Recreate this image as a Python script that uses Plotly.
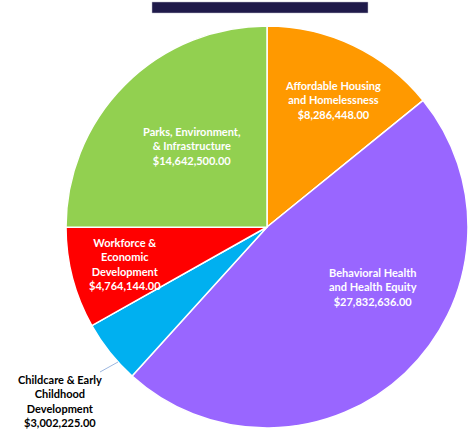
import plotly.graph_objects as go

categories = ["Affordable Housing<br>and Homelessness",
              "Behavioral Health<br>and Health Equity",
              "Childcare & Early<br>Childhood<br>Development",
              "Workforce &<br>Economic<br>Development",
              "Parks, Environment,<br>& Infrastructure"]
values = [8286448.00, 27832636.00, 3002225.00, 4764144.00, 14642500.00]
colors = ["#FF9900", "#9966FF", "#00B0F0", "#FF0000", "#92D050"]

W, H = 468, 431
# label centres in pixels (x, y) and text colours
label_pos = [(333, 100), (373, 287), (60, 401), (125, 264), (192, 146)]
label_col = ["white", "white", "black", "white", "white"]

fig = go.Figure(go.Pie(
    labels=[c.replace("<br>", " ") for c in categories],
    values=values,
    sort=False,
    direction="clockwise",
    rotation=0,
    marker=dict(colors=colors, line=dict(color="white", width=1.5)),
    textinfo="none",
    hoverinfo="label+value",
    domain=dict(x=[66 / W, 1.0], y=[3 / H, 405 / H]),
    showlegend=False,
))

annotations = []
for cat, val, (px, py), col in zip(categories, values, label_pos, label_col):
    annotations.append(dict(
        x=px / W, y=1 - py / H, xref="paper", yref="paper",
        text=f"{cat}<br>${val:,.2f}", showarrow=False,
        font=dict(family="Lato", size=11, color=col, weight="bold"),
        align="center", xanchor="center", yanchor="middle",
    ))

fig.update_layout(
    width=W, height=H,
    margin=dict(l=0, r=0, t=0, b=0),
    paper_bgcolor="white", plot_bgcolor="white",
    annotations=annotations,
    shapes=[
        dict(type="rect", xref="paper", yref="paper",
             x0=152 / W, x1=368 / W, y0=1 - 13 / H, y1=1 - 2 / H,
             fillcolor="#1F1A4A", line=dict(color="#BFBFCF", width=0.5)),
        dict(type="line", xref="paper", yref="paper",
             x0=100 / W, y0=1 - 372 / H, x1=118 / W, y1=1 - 362 / H,
             line=dict(color="#9DB7E0", width=1)),
    ],
)

fig.write_html("out.html", config={"displayModeBar": False},
               post_script="document.body.style.margin='0';document.body.style.overflow='hidden';")
